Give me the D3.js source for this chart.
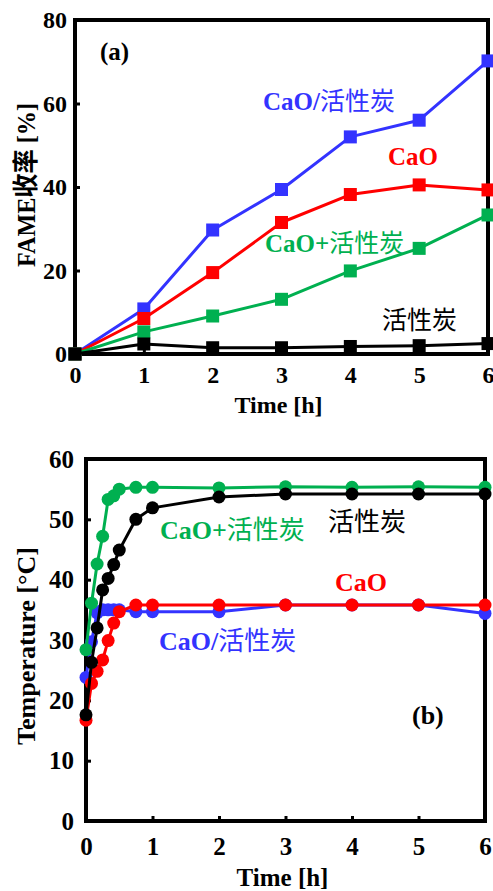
<!DOCTYPE html>
<html>
<head>
<meta charset="utf-8">
<script src="https://cdn.jsdelivr.net/npm/d3@7.9.0/dist/d3.min.js"></script>
<style>
  html, body { margin: 0; padding: 0; background: #fff; }
  svg { display: block; }
  .tick text { font-family: "Liberation Serif", "Times New Roman", serif; font-weight: bold; fill: #000; }
</style>
</head>
<body>
<div id="chart"></div>
<script>
// (a) FAME yield vs time
const hoursA = [0, 1, 2, 3, 4, 5, 6];
const yieldCaOAC = [0, 10.8, 29.7, 39.4, 52.0, 56.0, 70.2];
const yieldCaO = [0, 8.5, 19.5, 31.5, 38.2, 40.5, 39.3];
const yieldMix = [0, 5.3, 9.1, 13.1, 19.9, 25.3, 33.3];
const yieldAC = [0, 2.4, 1.5, 1.5, 1.8, 2.0, 2.5];

// (b) temperature vs time
const hoursB = [0, 0.083, 0.167, 0.25, 0.333, 0.417, 0.5, 0.75, 1, 2, 3, 4, 5, 6];
const tempCaOAC = [23.8, 29.7, 34.5, 35.0, 35.0, 35.0, 35.0, 34.7, 34.7, 34.7, 35.8, 35.8, 35.8, 34.4];
const tempCaO = [16.7, 22.8, 24.8, 26.7, 29.9, 32.8, 34.7, 35.8, 35.8, 35.8, 35.8, 35.8, 35.8, 35.8];
const tempMix = [28.4, 36.1, 42.6, 47.2, 53.3, 53.9, 55.0, 55.3, 55.3, 55.2, 55.4, 55.3, 55.4, 55.3];
const tempAC = [17.6, 26.3, 32.0, 38.3, 40.2, 42.5, 44.9, 50.0, 51.9, 53.7, 54.2, 54.2, 54.2, 54.2];

const xTicks = [0, 1, 2, 3, 4, 5, 6];
const yTicksA = [0, 20, 40, 60, 80];
const yTicksB = [0, 10, 20, 30, 40, 50, 60];

const BLUE = '#3333ff';
const RED = '#ff0000';
const GREEN = '#00b050';
const BLACK = '#000000';
const LATIN = '"Liberation Serif", "Times New Roman", serif';
const CJK = '"Noto Sans CJK SC", sans-serif';

const svg = d3
  .select('#chart')
  .append('svg')
  .attr('width', 493)
  .attr('height', 891);

function drawPanel(cfg) {
  const x = d3.scaleLinear().domain([0, 6]).range([cfg.left, cfg.right]);
  const y = d3.scaleLinear().domain(cfg.yDomain).range([cfg.bottom, cfg.top]);
  const g = svg.append('g');
  const fmt = d3.format('d');

  g.append('g')
    .attr('transform', `translate(${cfg.left},0)`)
    .call(
      d3.axisLeft(y).tickValues(cfg.yTicks).tickFormat(fmt)
        .tickSizeInner(-5).tickSizeOuter(0).tickPadding(cfg.yPad),
    )
    .call((a) => a.select('.domain').remove())
    .call((a) => a.selectAll('line').attr('stroke-width', 3))
    .call((a) => a.selectAll('text').style('font-size', cfg.tickSize + 'px'));

  g.append('g')
    .attr('transform', `translate(0,${cfg.bottom})`)
    .call(
      d3.axisBottom(x).tickValues(xTicks).tickFormat(fmt)
        .tickSizeInner(-5).tickSizeOuter(0).tickPadding(cfg.xPad),
    )
    .call((a) => a.select('.domain').remove())
    .call((a) => a.selectAll('line').attr('stroke-width', 3))
    .call((a) => a.selectAll('text').style('font-size', cfg.tickSize + 'px'));

  g.append('rect')
    .attr('x', cfg.left)
    .attr('y', cfg.top)
    .attr('width', cfg.right - cfg.left)
    .attr('height', cfg.bottom - cfg.top)
    .attr('fill', 'none')
    .attr('stroke', '#000')
    .attr('stroke-width', 4);

  cfg.series.forEach((s) => {
    const pts = cfg.hours.map((h, i) => [h, s.values[i]]);
    g.append('path')
      .datum(pts)
      .attr('fill', 'none')
      .attr('stroke', s.color)
      .attr('stroke-width', 3)
      .attr('stroke-linejoin', 'round')
      .attr('d', d3.line().x((d) => x(d[0])).y((d) => y(d[1])));

    if (cfg.marker === 'square') {
      g.append('g')
        .selectAll('rect')
        .data(pts)
        .join('rect')
        .attr('x', (d) => x(d[0]) - 6.5)
        .attr('y', (d) => y(d[1]) - 6.5)
        .attr('width', 13)
        .attr('height', 13)
        .attr('fill', s.color);
    } else {
      g.append('g')
        .selectAll('circle')
        .data(pts)
        .join('circle')
        .attr('cx', (d) => x(d[0]))
        .attr('cy', (d) => y(d[1]))
        .attr('r', 6.5)
        .attr('fill', s.color);
    }
  });

  // axis titles
  g.append('text')
    .attr('x', (cfg.left + cfg.right) / 2 - 3)
    .attr('y', cfg.xTitleY)
    .attr('text-anchor', 'middle')
    .attr('font-family', LATIN)
    .attr('font-weight', 'bold')
    .attr('font-size', cfg.titleSize)
    .text('Time [h]');

  g.append('text')
    .attr('transform', `translate(35,${cfg.yTitleY}) rotate(-90)`)
    .attr('text-anchor', 'middle')
    .attr('textLength', cfg.yTitleLen)
    .attr('lengthAdjust', 'spacingAndGlyphs')
    .attr('font-family', LATIN + ', ' + CJK)
    .attr('font-weight', 'bold')
    .attr('font-size', 26)
    .text(cfg.yTitle);

  // series labels
  cfg.labels.forEach((l) => {
    const t = g.append('text')
      .attr('x', l.x)
      .attr('y', l.y)
      .attr('fill', l.color)
      .attr('font-size', cfg.labelSize);
    if (l.latin) {
      t.append('tspan').attr('font-family', LATIN).attr('font-weight', 'bold').text(l.latin);
    }
    if (l.cjk) {
      t.append('tspan').attr('font-family', CJK).attr('font-weight', 'normal').text(l.cjk);
    }
  });

  g.append('text')
    .attr('x', cfg.tag.x)
    .attr('y', cfg.tag.y)
    .attr('font-family', LATIN)
    .attr('font-weight', 'bold')
    .attr('font-size', cfg.labelSize)
    .text(cfg.tag.text);
}

drawPanel({
  left: 75, right: 488, top: 20, bottom: 354,
  yDomain: [0, 80], yTicks: yTicksA, yPad: 8, xPad: 12,
  tickSize: 24, titleSize: 24, labelSize: 25,
  hours: hoursA, marker: 'square',
  xTitleY: 413, yTitleY: 185, yTitleLen: 164, yTitle: 'FAME收率 [%]',
  series: [
    { values: yieldCaOAC, color: BLUE },
    { values: yieldCaO, color: RED },
    { values: yieldMix, color: GREEN },
    { values: yieldAC, color: BLACK },
  ],
  labels: [
    { x: 263, y: 110, color: BLUE, latin: 'CaO/', cjk: '活性炭' },
    { x: 388, y: 165, color: RED, latin: 'CaO' },
    { x: 265, y: 252, color: GREEN, latin: 'CaO+', cjk: '活性炭' },
    { x: 382, y: 329, color: BLACK, cjk: '活性炭' },
  ],
  tag: { x: 100, y: 60, text: '(a)' },
});

drawPanel({
  left: 86, right: 485, top: 459, bottom: 821,
  yDomain: [0, 60], yTicks: yTicksB, yPad: 12, xPad: 16,
  tickSize: 25, titleSize: 25, labelSize: 26,
  hours: hoursB, marker: 'circle',
  xTitleY: 886, yTitleY: 646, yTitleLen: 198, yTitle: 'Temperature [°C]',
  series: [
    { values: tempCaOAC, color: BLUE },
    { values: tempCaO, color: RED },
    { values: tempMix, color: GREEN },
    { values: tempAC, color: BLACK },
  ],
  labels: [
    { x: 160, y: 539, color: GREEN, latin: 'CaO+', cjk: '活性炭' },
    { x: 328, y: 531, color: BLACK, cjk: '活性炭' },
    { x: 335, y: 591, color: RED, latin: 'CaO' },
    { x: 159, y: 650, color: BLUE, latin: 'CaO/', cjk: '活性炭' },
  ],
  tag: { x: 412, y: 724, text: '(b)' },
});
</script>
</body>
</html>
